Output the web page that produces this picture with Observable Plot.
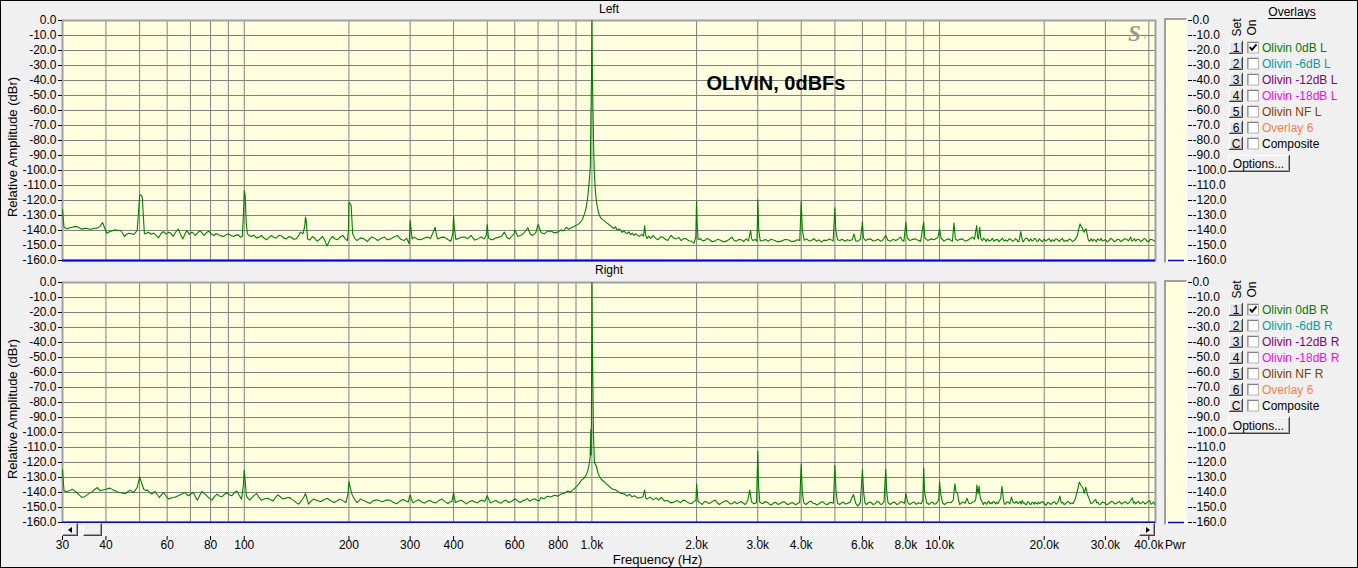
<!DOCTYPE html>
<html><head><meta charset="utf-8">
<script src="https://cdn.jsdelivr.net/npm/d3@7"></script>
<script src="https://cdn.jsdelivr.net/npm/@observablehq/plot@0.6"></script>
<style>
html,body{margin:0;padding:0;background:#f0f0f0;}
#app{position:relative;width:1358px;height:568px;overflow:hidden;background:#f0f0f0;font-family:"Liberation Sans",Arial,sans-serif;font-size:12px;color:#000;}
#app > *{position:absolute;}
.frameBorder{left:0;top:0;width:1358px;height:568px;box-sizing:border-box;border:1px solid #000;pointer-events:none;}
.pwrbox{background:#ffffe0;box-sizing:border-box;border-left:2px solid #a0a0a0;border-top:2px solid #a0a0a0;border-right:1px solid #fafafa;border-bottom:1px solid #fafafa;}
.track{background-color:#f4f4f4;background-image:repeating-conic-gradient(#ffffff 0 25%, #ebebeb 0 50%);background-size:2px 2px;}
.raised{box-sizing:border-box;background:#f0f0f0;border-top:1px solid #fff;border-left:1px solid #fff;border-right:1px solid #404040;border-bottom:1px solid #404040;box-shadow:inset -1px -1px 0 #a0a0a0;}
.tri{position:absolute;top:3px;width:0;height:0;border-top:3px solid transparent;border-bottom:3px solid transparent;}
</style></head>
<body><div id="app"></div>
<script>
// ---------------- data ----------------
const freqDomain = [30, 41800];
const dbDomain = [-160, 0];
const yTicks = [0,-10,-20,-30,-40,-50,-60,-70,-80,-90,-100,-110,-120,-130,-140,-150,-160];
const xGridValues = [40,50,60,70,80,90,100,200,300,400,500,600,700,800,900,1000,2000,3000,4000,5000,6000,7000,8000,9000,10000,20000,30000,40000];
const xTickValues = [30,40,60,80,100,200,300,400,600,800,1000,2000,3000,4000,6000,8000,10000,20000,30000,40000];
const xTickLabels = ["30","40","60","80","100","200","300","400","600","800","1.0k","2.0k","3.0k","4.0k","6.0k","8.0k","10.0k","20.0k","30.0k","40.0k"];
const floorDb = [-160];
const panelTitles = ["Left","Right"];
const annotation = ["OLIVIN, 0dBFs"];
const overlaySet = ["1","2","3","4","5","6","C"];
const overlayNamesL = ["Olivin 0dB L","Olivin -6dB L","Olivin -12dB L","Olivin -18dB L","Olivin NF L","Overlay 6","Composite"];
const overlayNamesR = ["Olivin 0dB R","Olivin -6dB R","Olivin -12dB R","Olivin -18dB R","Olivin NF R","Overlay 6","Composite"];
const overlayColors = ["#008000","#00a0a0","#800080","#ff00ff","#804000","#ff8040","#000000"];
const overlayOn = [true,false,false,false,false,false,false];

// [frequency Hz, level dBr]
const leftSpectrum = [
[30,-126.2],[30.3,-137.8],[30.9,-138.9],[31.5,-138.2],[32.0,-137.8],[32.5,-137.4],[33.0,-137.3],[33.6,-138.3],[34.1,-139.1],[34.7,-138.6],[35.3,-138.7],[35.9,-139.2],[36.5,-138.9],[37.1,-138.5],[37.8,-138.4],[38.5,-137.2],[39.1,-134.7],[39.7,-138.5],[40.2,-141.8],[41.1,-140.7],[41.8,-140.1],[42.5,-139.6],[43.2,-139.8],[44.0,-140.0],[44.6,-141.5],[45.2,-144.0],[45.8,-142.6],[46.5,-141.8],[47.3,-142.1],[48.1,-142.7],[48.7,-141.2],[49.2,-140.0],[49.7,-126.0],[50.0,-116.7],[50.4,-116.2],[50.9,-117.8],[51.3,-132],[51.6,-142.2],[52.3,-141.8],[53.1,-141.1],[53.9,-142.5],[54.8,-141.8],[55.7,-143.1],[56.7,-144.9],[57.6,-142.0],[58.6,-140.7],[59.6,-142.4],[60.6,-141.1],[61.5,-141.9],[62.4,-144.0],[63.5,-141.0],[64.6,-139.1],[65.6,-142.8],[66.6,-145.6],[67.5,-142.3],[68.4,-140.0],[69.5,-142.6],[70.7,-141.1],[71.5,-142.0],[72.3,-143.3],[73.5,-141.4],[74.7,-140.0],[75.7,-141.9],[76.7,-143.3],[77.8,-141.5],[79.0,-140.4],[80.3,-142.2],[81.7,-143.3],[83.0,-142.0],[84.4,-142.9],[85.8,-143.6],[87.2,-144.0],[88.6,-142.9],[90.1,-142.2],[91.6,-143.4],[93.1,-144.0],[94.6,-143.1],[96.2,-142.9],[97.4,-144.4],[98.7,-144.0],[99.5,-128],[100.0,-113.3],[100.6,-116.7],[101.3,-135],[102.1,-142.2],[103.5,-143.6],[104.9,-144.0],[106.6,-143.1],[108.4,-144.9],[110.2,-144.6],[112.0,-143.3],[113.9,-145.0],[115.8,-146.2],[117.7,-144.7],[119.7,-143.3],[121.7,-144.8],[123.7,-144.9],[125.7,-143.2],[127.8,-143.5],[130.0,-145.1],[132.1,-145.6],[134.3,-144.1],[136.5,-144.5],[138.7,-145.8],[141.0,-145.6],[143.2,-143.6],[145.0,-141.1],[147.5,-142.2],[149.3,-137],[150.0,-131.1],[150.7,-133],[152.0,-145.6],[154.5,-146.3],[157.0,-144.0],[159.5,-145.2],[162.0,-147.1],[165.0,-145.8],[168.0,-144.0],[170.5,-146.6],[173.0,-150.4],[176.0,-146.5],[179.0,-144.0],[182.0,-145.5],[185.0,-146.2],[188.5,-144.5],[192.0,-143.3],[195.0,-145.4],[198.0,-146.7],[199.4,-140],[200.0,-121.1],[201.5,-122],[203,-123.3],[205,-142.2],[208,-145.2],[211,-146.7],[216,-144.9],[221,-145.6],[226,-147.3],[232,-144.4],[237,-145.1],[242,-146.7],[247,-145.4],[253,-144.4],[258,-146.2],[264,-145.6],[270,-144.2],[276,-143.3],[282,-145.9],[288,-146.7],[293,-145.2],[298,-148.9],[299.3,-140],[300,-133.3],[301.5,-138],[304,-145.6],[308,-144.4],[315,-145.8],[322,-146.2],[330,-145.0],[337,-144.4],[343,-145.3],[348,-142.2],[351,-140.0],[354,-137.8],[357,-143.0],[360,-145.6],[368,-144.6],[376,-144.4],[385,-146.0],[393,-147.1],[398,-142],[400,-130.4],[402,-138],[406,-145.9],[411,-145.6],[420,-144.5],[430,-144.4],[440,-145.5],[449,-143.3],[460,-146.4],[470,-145.6],[480,-144.3],[490,-145.6],[497,-143],[500,-136.0],[504,-144.8],[511,-145.9],[518,-146.2],[530,-144.9],[542,-144.4],[551,-143.6],[560,-141.1],[570,-144.7],[579,-145.6],[590,-143.5],[598,-142],[600,-139.6],[612,-143.8],[625,-143.3],[640,-141.2],[654,-138.2],[665,-142.5],[676,-143.3],[690,-141.3],[700,-136.0],[715,-141.5],[730,-142.2],[746,-140.3],[763,-140.4],[780,-141.6],[798,-141.1],[816,-139.6],[830,-140.2],[843,-137.8],[857,-139.1],[871,-138.2],[888,-137.4],[904,-136.4],[916,-135.6],[928,-134.2],[937,-133.0],[945,-130.9],[952,-128.9],[959,-126.4],[965,-123.1],[970,-119.8],[976,-114.5],[980,-109.8],[985,-104],[990,-96.4],[992,-74.2],[997,-40],[1000,0],[1003,-36],[1011,-82],[1016,-101],[1022,-112],[1028,-118.7],[1034,-123],[1041,-126.4],[1050,-129.5],[1060,-131.6],[1074,-132.7],[1088,-133.8],[1104,-135.1],[1120,-136.0],[1138,-137.4],[1157,-138.7],[1170,-137.5],[1183,-139.9],[1196,-138.9],[1209,-139.8],[1222,-141.2],[1236,-140.3],[1250,-141.6],[1264,-142.0],[1278,-140.9],[1293,-142.7],[1308,-141.8],[1322,-143.3],[1336,-142.1],[1350,-143.0],[1370,-143.9],[1390,-142.6],[1408,-143.8],[1418,-136.9],[1428,-143.1],[1440,-145.3],[1457,-143.8],[1474,-145.3],[1486,-144.6],[1498,-143.3],[1523,-145.1],[1548,-146.2],[1575,-144.2],[1600,-144.4],[1626,-145.9],[1652,-146.7],[1670,-145.0],[1689,-143.3],[1718,-145.0],[1748,-145.6],[1777,-144.6],[1807,-146.7],[1837,-145.3],[1868,-145.6],[1900,-146.8],[1931,-147.1],[1966,-148.4],[1990,-144.4],[2000,-120.4],[2008,-135],[2020,-145.8],[2055,-145.6],[2083,-146.9],[2110,-146.7],[2145,-145.3],[2181,-146.2],[2218,-147.5],[2254,-147.1],[2300,-145.9],[2356,-146.7],[2395,-147.6],[2434,-147.1],[2480,-146.0],[2527,-144.4],[2563,-146.5],[2600,-147.1],[2645,-146.0],[2688,-146.2],[2733,-147.3],[2778,-145.6],[2820,-146.9],[2860,-140.0],[2880,-145.5],[2906,-146.7],[2950,-146.0],[2985,-147.1],[3000,-119.6],[3020,-140],[3050,-146.9],[3106,-146.7],[3160,-146.0],[3210,-147.1],[3280,-145.9],[3357,-146.7],[3430,-147.6],[3508,-147.1],[3590,-146.0],[3667,-146.2],[3750,-147.4],[3832,-147.1],[3900,-146.1],[3962,-146.7],[4000,-120.7],[4030,-140],[4080,-146.5],[4142,-145.6],[4210,-146.9],[4281,-146.7],[4350,-145.5],[4425,-147.1],[4500,-146.2],[4574,-147.8],[4650,-146.4],[4728,-146.7],[4830,-145.6],[4942,-147.1],[5000,-124.9],[5030,-140],[5090,-146.2],[5165,-146.7],[5250,-145.8],[5337,-147.1],[5430,-146.1],[5518,-146.7],[5610,-146.2],[5671,-142.2],[5740,-146.9],[5833,-147.1],[5920,-145.8],[6000,-134.4],[6040,-145],[6126,-146.7],[6230,-145.9],[6333,-145.6],[6440,-147.0],[6546,-146.7],[6650,-145.8],[6767,-147.1],[6880,-146.2],[7000,-143.3],[7100,-146.5],[7229,-147.1],[7350,-145.9],[7473,-146.7],[7600,-145.8],[7725,-144.4],[7820,-146.6],[7898,-147.1],[8000,-134.4],[8070,-145],[8217,-146.7],[8380,-145.9],[8534,-145.6],[8680,-146.6],[8822,-147.1],[9000,-134.4],[9070,-145],[9258,-146.7],[9450,-145.6],[9634,-146.2],[9780,-145.4],[9893,-144.4],[10000,-138.9],[10100,-145],[10301,-147.1],[10480,-146.0],[10648,-145.6],[10780,-146.6],[10888,-147.1],[11000,-135.1],[11100,-145.5],[11255,-146.7],[11440,-145.9],[11634,-145.6],[11830,-146.9],[12026,-146.7],[12230,-145.5],[12431,-144.4],[12600,-145.8],[12791,-136.7],[12860,-144],[12936,-145.6],[13047,-137.8],[13150,-145.5],[13283,-146.7],[13390,-145.2],[13500,-145.8],[13610,-147.3],[13731,-145.6],[13880,-146.9],[14030,-146.6],[14190,-145.3],[14346,-147.1],[14510,-146.2],[14670,-145.9],[14830,-147.4],[14997,-146.2],[15160,-145.1],[15330,-147.0],[15500,-146.3],[15679,-147.1],[15850,-145.6],[16030,-145.8],[16200,-147.2],[16380,-146.7],[16520,-145.4],[16660,-145.9],[16800,-147.5],[16932,-147.1],[17124,-140.7],[17300,-146.3],[17400,-147.6],[17503,-146.7],[17700,-145.0],[17900,-145.4],[18100,-147.1],[18295,-145.6],[18450,-146.9],[18600,-146.6],[18750,-145.2],[18912,-145.6],[19070,-147.3],[19230,-146.9],[19390,-145.5],[19549,-146.7],[19770,-147.5],[19990,-145.8],[20210,-146.9],[20436,-146.2],[20660,-145.4],[20890,-147.4],[21120,-146.1],[21350,-147.1],[21590,-145.5],[21830,-145.9],[22070,-147.3],[22316,-146.2],[22570,-145.3],[22820,-147.3],[23070,-146.5],[23329,-147.1],[23590,-145.7],[23850,-146.0],[24110,-147.4],[24372,-146.7],[24650,-145.5],[24928,-143.3],[25150,-139],[25362,-135.6],[25560,-137.5],[25769,-138.2],[25900,-140.5],[26043,-141.1],[26200,-139.5],[26393,-138.9],[26560,-142],[26742,-145.6],[26940,-147.2],[27130,-146.5],[27330,-145.4],[27530,-147.1],[27760,-146.0],[28000,-146.3],[28230,-147.5],[28457,-145.6],[28690,-146.2],[28930,-146.6],[29170,-145.3],[29416,-147.1],[29740,-146.4],[30060,-146.2],[30380,-147.6],[30713,-146.7],[31050,-145.3],[31400,-145.9],[31750,-147.3],[32108,-147.1],[32470,-145.8],[32830,-146.0],[33200,-147.4],[33560,-146.7],[34030,-145.5],[34500,-145.8],[34980,-146.9],[35458,-144.4],[35750,-147.0],[36050,-146.5],[36350,-145.5],[36654,-147.1],[37060,-145.9],[37480,-146.0],[37900,-147.3],[38317,-146.7],[38740,-145.4],[39170,-145.9],[39600,-147.4],[40025,-147.1],[40480,-145.8],[40940,-146.2],[41570,-147.1]
];

const rightSpectrum = [
[30,-125.1],[30.3,-138.9],[30.9,-139.3],[31.5,-138.6],[32.0,-137.8],[32.5,-138.9],[33.0,-140.0],[33.6,-141.9],[34.1,-143.3],[34.7,-142.8],[35.3,-141.6],[35.9,-140.4],[36.5,-139.6],[37.1,-138.0],[37.8,-136.7],[38.5,-138.9],[39.2,-138.3],[40.0,-137.8],[40.5,-137.4],[41.1,-137.1],[41.8,-138.1],[42.5,-138.9],[43.2,-139.7],[44.0,-140.0],[44.7,-140.4],[45.5,-140.7],[46.2,-139.5],[47.0,-138.4],[47.5,-139.3],[48.1,-140.0],[48.6,-138.4],[49.2,-136.7],[49.6,-133],[50.0,-129.6],[50.6,-133.3],[51.4,-137.8],[52.0,-138.6],[52.7,-138.4],[53.4,-140.0],[54.2,-141.1],[54.8,-140.0],[55.4,-139.3],[56.2,-141.5],[57.0,-143.3],[57.8,-141.4],[58.6,-140.0],[59.6,-142.5],[60.6,-144.4],[61.6,-143.6],[62.6,-143.3],[63.6,-142.9],[64.6,-142.2],[66.1,-141.0],[67.6,-140.0],[68.3,-141.3],[69.1,-142.2],[70.2,-141.0],[71.4,-140.0],[72.3,-142.7],[73.3,-145.1],[74.4,-142.0],[75.5,-139.3],[76.8,-140.8],[78.1,-142.2],[79.4,-143.9],[80.7,-145.1],[82.1,-142.8],[83.5,-141.1],[84.8,-142.3],[86.2,-142.9],[87.6,-141.3],[89.0,-140.0],[90.5,-141.5],[92.0,-142.2],[93.5,-140.4],[95.1,-138.9],[96.6,-141.7],[98.2,-144.4],[99.3,-136],[100.0,-125.1],[100.6,-132],[101.4,-142.2],[102.5,-143.9],[103.7,-145.1],[106.0,-142.6],[108.4,-140.7],[110.2,-143.2],[112.0,-145.1],[114.5,-144.2],[117.1,-143.8],[119.0,-144.9],[121.0,-145.6],[123.0,-143.3],[125.0,-141.6],[127.1,-143.0],[129.2,-144.4],[132.0,-143.6],[135.0,-143.3],[137.2,-144.6],[139.4,-145.6],[141.4,-146.9],[143.4,-147.8],[146.5,-145.0],[148.8,-142.5],[150.0,-140.7],[151.5,-144],[153.0,-147.8],[155.5,-145.9],[158.0,-144.4],[162.0,-145.4],[166.0,-146.0],[169.5,-144.8],[173.0,-143.8],[177.0,-145.3],[181.0,-146.7],[185.0,-145.5],[189.0,-144.4],[192.5,-145.6],[196.0,-146.7],[198.8,-141],[200.0,-132.7],[201.5,-136],[204.0,-141.1],[207.5,-144.5],[211.0,-146.7],[216.0,-144.4],[222,-145.6],[230,-147.3],[235,-145.5],[240,-144.9],[250,-146.2],[256,-145.0],[262,-145.1],[268,-146.5],[274,-147.5],[280,-145.9],[286,-144.7],[296,-146.4],[300,-141.6],[303,-145],[306,-146.9],[312,-145.6],[318,-144.9],[324,-146.3],[330,-147.1],[336,-145.8],[342,-145.3],[349,-146.5],[356,-146.9],[363,-145.4],[370,-144.4],[378,-146.1],[385,-147.3],[391,-146.2],[396,-145.8],[400,-140.0],[402,-143],[405,-146.7],[412,-145.9],[420,-145.1],[428,-146.3],[436,-147.6],[444,-146.1],[452,-145.3],[460,-146.3],[468,-146.9],[476,-145.7],[484,-145.1],[492,-146.0],[500,-142.2],[506,-145.2],[512,-146.9],[521,-145.8],[530,-145.3],[539,-146.5],[548,-147.1],[557,-145.7],[566,-145.1],[575,-146.6],[585,-146.2],[594,-145.0],[604,-144.4],[613,-145.8],[622,-146.7],[632,-145.4],[642,-145.1],[652,-144.0],[662,-145.8],[673,-144.9],[684,-144.2],[695,-145.2],[706,-145.6],[713,-143.3],[729,-144.1],[745,-142.5],[762,-143.0],[780,-141.8],[798,-142.4],[816,-141.0],[834,-140.5],[852,-139.0],[866,-139.8],[881,-138.4],[894,-137.1],[907,-135.5],[919,-134.1],[931,-132.0],[942,-131.1],[952,-130.0],[963,-128.2],[973,-125.6],[981,-121.5],[988,-116.7],[993,-97.8],[996,-115],[1000,0],[1004,-47],[1010,-100],[1017,-120],[1023,-121.5],[1029,-122.0],[1035,-124.5],[1040,-126.7],[1051,-129.3],[1063,-131.0],[1075,-132.2],[1087,-133.0],[1099,-134.3],[1111,-134.9],[1130,-136.7],[1149,-137.8],[1168,-138.2],[1187,-139.3],[1214,-140.6],[1241,-141.0],[1262,-142.4],[1284,-141.2],[1305,-142.9],[1326,-142.2],[1352,-143.6],[1380,-143.5],[1402,-142.8],[1418,-138.4],[1428,-143.6],[1440,-144.4],[1470,-143.1],[1500,-144.9],[1530,-143.6],[1555,-145.1],[1584,-143.3],[1615,-145.6],[1650,-145.3],[1685,-146.9],[1720,-146.4],[1760,-145.4],[1799,-146.8],[1830,-145.1],[1860,-145.6],[1895,-146.9],[1930,-147.5],[1965,-146.1],[1992,-145],[2000,-134.2],[2010,-140],[2020,-146.0],[2048,-146.9],[2076,-148.0],[2108,-146.0],[2140,-146.2],[2170,-147.4],[2199,-146.8],[2230,-145.6],[2260,-145.1],[2293,-146.8],[2327,-148.0],[2358,-146.9],[2390,-146.4],[2427,-145.3],[2465,-146.2],[2497,-147.6],[2530,-147.5],[2570,-146.1],[2610,-147.5],[2650,-146.6],[2690,-146.0],[2727,-147.2],[2764,-148.0],[2810,-145],[2844,-138.4],[2880,-146.2],[2925,-147.5],[2975,-146.8],[3000,-112.6],[3015,-135],[3040,-146.5],[3098,-147.5],[3145,-146.1],[3190,-146.4],[3235,-147.6],[3281,-148.4],[3330,-146.9],[3380,-146.6],[3427,-147.9],[3474,-147.5],[3527,-146.3],[3580,-146.2],[3630,-147.6],[3680,-148.0],[3735,-146.9],[3790,-146.8],[3845,-148.1],[3897,-147.5],[3960,-146.5],[4000,-121.0],[4030,-140],[4070,-146.9],[4128,-148.0],[4200,-146.5],[4272,-145.8],[4326,-147.2],[4380,-147.3],[4440,-148.4],[4496,-147.5],[4560,-146.4],[4620,-146.2],[4690,-147.7],[4762,-148.0],[4820,-146.9],[4880,-146.6],[4950,-147.2],[5000,-121.9],[5040,-140],[5090,-147.2],[5160,-148.0],[5225,-146.9],[5290,-146.4],[5350,-147.6],[5415,-147.5],[5530,-146.3],[5653,-141.3],[5740,-147.2],[5821,-149.1],[5920,-146.6],[6000,-124.8],[6050,-140],[6100,-146.9],[6167,-148.0],[6260,-146.6],[6350,-146.6],[6440,-148.0],[6530,-147.5],[6600,-146.1],[6680,-146.2],[6750,-147.6],[6815,-148.0],[6920,-146.2],[7000,-124.5],[7050,-140],[7110,-146.8],[7218,-148.0],[7320,-146.8],[7420,-146.4],[7530,-147.9],[7641,-147.5],[7730,-146.0],[7820,-146.4],[7930,-147.2],[8000,-140.8],[8100,-146.5],[8209,-148.0],[8330,-146.9],[8450,-146.4],[8570,-147.9],[8693,-146.8],[8850,-147.5],[8950,-145],[9000,-123.7],[9060,-140],[9180,-146.8],[9339,-148.0],[9440,-146.8],[9540,-146.4],[9650,-147.8],[9754,-147.5],[9880,-146.2],[9950,-144],[10000,-132.9],[10080,-141],[10200,-146.9],[10330,-148.0],[10560,-146.6],[10784,-146.8],[10950,-145.1],[11068,-134.2],[11160,-140],[11260,-140.3],[11340,-145],[11425,-148.0],[11560,-146.9],[11700,-146.4],[11850,-147.2],[11995,-143.9],[12140,-147.1],[12277,-147.5],[12440,-146.3],[12600,-146.2],[12720,-144],[12809,-135.1],[12900,-141],[12996,-135.8],[13100,-144],[13372,-148.0],[13470,-146.5],[13560,-146.8],[13660,-147.9],[13760,-146.4],[13860,-145.8],[13960,-147.6],[14060,-146.7],[14158,-147.5],[14270,-146.0],[14380,-146.2],[14490,-147.7],[14600,-146.6],[14730,-147.3],[14860,-145.5],[14990,-144],[15116,-135.8],[15250,-144],[15340,-147.2],[15429,-148.0],[15600,-146.4],[15760,-146.3],[15930,-147.6],[16098,-143.0],[16270,-146.5],[16450,-147.2],[16630,-145.9],[16806,-147.5],[16930,-146.6],[17050,-146.0],[17170,-147.7],[17293,-145.3],[17420,-147.2],[17550,-146.9],[17680,-148.2],[17800,-147.8],[17920,-146.2],[18050,-146.3],[18180,-147.6],[18320,-148.0],[18450,-146.7],[18580,-146.6],[18710,-147.9],[18850,-146.4],[18990,-147.2],[19120,-147.7],[19260,-146.3],[19394,-147.5],[19610,-146.4],[19820,-146.1],[20030,-147.7],[20246,-148.4],[20470,-146.6],[20690,-147.0],[20910,-148.0],[21136,-146.8],[21400,-146.2],[21660,-147.7],[21930,-146.3],[22196,-142.4],[22400,-147.0],[22600,-146.6],[22820,-148.0],[23035,-147.5],[23290,-146.1],[23540,-146.2],[23790,-147.6],[24049,-146.8],[24220,-147.5],[24400,-145.9],[24570,-144.3],[24746,-141.3],[25000,-137.5],[25241,-133.1],[25530,-135.3],[25826,-136.9],[26080,-140.5],[26343,-136.5],[26650,-141.5],[26963,-144.6],[27250,-147.3],[27540,-147.0],[27830,-145.8],[28133,-144.6],[28330,-146.9],[28540,-146.5],[28750,-147.8],[28968,-148.0],[29380,-146.4],[29800,-146.8],[30220,-148.1],[30640,-147.5],[31090,-146.1],[31540,-146.2],[32000,-147.7],[32455,-146.8],[32920,-145.9],[33400,-147.7],[33880,-146.6],[34360,-146.2],[34730,-147.5],[35100,-146.8],[35480,-145.2],[35870,-143.5],[36130,-147.1],[36400,-146.3],[36650,-147.6],[36910,-146.8],[37310,-145.9],[37720,-147.6],[38130,-146.9],[38540,-146.2],[38960,-147.7],[39380,-147.0],[39810,-146.1],[40240,-145.2],[40570,-147.8],[40900,-147.3],[41280,-146.4],[41650,-148.0]
];

// ---------------- layout ----------------
const app = document.getElementById("app");
const FONT = "'Liberation Sans', Arial, sans-serif";
const labelOf = new Map(xTickValues.map((v, i) => [v, xTickLabels[i]]));
const dbFmt = d => d.toFixed(1);

function place(el, left, top) {
  el.style.position = "absolute";
  el.style.left = left + "px";
  el.style.top = top + "px";
  app.appendChild(el);
  return el;
}
function div(cls, left, top, w, h, html) {
  const d = document.createElement("div");
  if (cls) d.className = cls;
  d.style.width = w + "px"; d.style.height = h + "px";
  if (html) d.innerHTML = html;
  return place(d, left, top);
}

function spectrumPanel(spectrum, title, isTop) {
  const marks = [
    Plot.frame({fill: "#ffffe0", stroke: "none"}),
    Plot.gridX(xGridValues, {stroke: "#808080", strokeOpacity: 1, strokeWidth: 1}),
    Plot.gridY(yTicks, {stroke: "#808080", strokeOpacity: 1, strokeWidth: 1}),
    Plot.frame({stroke: "#a0a0a0", strokeWidth: 2}),
    Plot.line(spectrum, {x: d => d[0], y: d => d[1], stroke: "#008000", strokeWidth: 1.1}),
    Plot.ruleY(floorDb, {stroke: "#0000ff", strokeWidth: 2}),
    Plot.axisY(yTicks, {anchor: "left", tickSize: 4, tickPadding: 2, tickFormat: dbFmt, label: null, fontSize: 12}),
    Plot.text([title], {text: d => d, frameAnchor: "top", dy: isTop ? -11 : -12, fontSize: 12, textAnchor: "middle", lineAnchor: "middle"}),
    Plot.text(["Relative Amplitude (dBr)"], {text: d => d, frameAnchor: "left", dx: -49.5, dy: 6.5, rotate: -90, fontSize: 13, textAnchor: "middle", lineAnchor: "middle"})
  ];
  if (isTop) {
    marks.push(Plot.text(annotation, {text: d => d, frameAnchor: "top-left", dx: 713.5, dy: 63, fontSize: 20, fontWeight: "bold", textAnchor: "middle", lineAnchor: "middle"}));
    marks.push(Plot.text(["S"], {text: d => d, frameAnchor: "top-right", dx: -21, dy: 13, fontSize: 23, fontWeight: "bold", fontStyle: "italic", fontFamily: "'Liberation Serif', serif", fill: "#9a9a9a", textAnchor: "middle", lineAnchor: "middle"}));
    marks.push(Plot.text(["/"], {text: d => d, frameAnchor: "top-right", dx: -10.5, dy: 16, fontSize: 8, fill: "#9a9a9a", textAnchor: "middle", lineAnchor: "middle"}));
  }
  return Plot.plot({
    width: 1160, height: 262,
    marginLeft: 62, marginRight: 5, marginTop: 20, marginBottom: 2,
    x: {type: "log", domain: freqDomain, axis: null},
    y: {domain: dbDomain, axis: null},
    style: {background: "transparent", fontFamily: FONT, fontSize: "12px", color: "#000", overflow: "visible"},
    marks
  });
}

function pwrPanel() {
  return Plot.plot({
    width: 70, height: 262,
    marginLeft: 2, marginRight: 46, marginTop: 20, marginBottom: 2,
    y: {domain: dbDomain, axis: null},
    style: {background: "transparent", fontFamily: FONT, fontSize: "12px", color: "#000", overflow: "visible"},
    marks: [
      Plot.ruleY(floorDb, {stroke: "#0000ff", strokeWidth: 1.5, insetLeft: 3, insetRight: 3}),
      Plot.axisY(yTicks, {anchor: "right", tickSize: 4, tickPadding: 1, tickFormat: dbFmt, label: null, fontSize: 12})
    ]
  });
}

function overlayPanel(names, withHeader) {
  const ns = "http://www.w3.org/2000/svg";
  let s = `<svg xmlns="${ns}" width="133" height="180" style="font-family:${FONT.replace(/'/g, "&quot;")};font-size:12px">`;
  if (withHeader) {
    s += `<text x="67" y="12" text-anchor="middle" dominant-baseline="central">Overlays</text>`;
    s += `<line x1="43" x2="91" y1="18.5" y2="18.5" stroke="#000"/>`;
  }
  s += `<text transform="translate(12,27.5) rotate(-90)" text-anchor="middle" dominant-baseline="central">Set</text>`;
  s += `<text transform="translate(27,27.5) rotate(-90)" text-anchor="middle" dominant-baseline="central">On</text>`;
  names.forEach((name, i) => {
    const cy = 47.5 + 16 * i;
    const t = cy - 6.5, b = cy + 6.5;
    s += `<rect x="4" y="${t}" width="14" height="13" fill="#e6e6e6"/>`;
    s += `<path d="M4.5 ${b - 1} V${t + 0.5} H17" fill="none" stroke="#fff"/>`;
    s += `<path d="M4 ${b - 0.5} H17.5 V${t}" fill="none" stroke="#404040"/>`;
    s += `<path d="M5 ${b - 1.5} H16.5 V${t + 1}" fill="none" stroke="#a0a0a0"/>`;
    s += `<text x="11" y="${cy + 0.5}" text-anchor="middle" dominant-baseline="central">${overlaySet[i]}</text>`;
    s += `<rect x="22.5" y="${cy - 5.5}" width="11" height="11" fill="#fff" stroke="#b4b4b4"/>`;
    s += `<path d="M23 ${cy + 5} V${cy - 5} H33" fill="none" stroke="#808080"/>`;
    if (overlayOn[i]) s += `<polyline points="24.8,${cy - 0.5} 27,${cy + 2.3} 31.5,${cy - 3.2}" fill="none" stroke="#000" stroke-width="1.9"/>`;
    s += `<text x="37" y="${cy + 0.5}" fill="${overlayColors[i]}" dominant-baseline="central">${name}</text>`;
  });
  const oy = 155;
  s += `<rect x="3" y="${oy}" width="62" height="17" fill="#f0f0f0"/>`;
  s += `<path d="M3.5 ${oy + 16.5} V${oy + 0.5} H64.5" fill="none" stroke="#fff"/>`;
  s += `<path d="M3 ${oy + 16.5} H64.5 V${oy}" fill="none" stroke="#404040"/>`;
  s += `<path d="M4 ${oy + 15.5} H63.5 V${oy + 1}" fill="none" stroke="#a0a0a0"/>`;
  s += `<text x="33.5" y="${oy + 8.5}" text-anchor="middle" dominant-baseline="central">Options...</text>`;
  s += `</svg>`;
  const d = document.createElement("div");
  d.innerHTML = s;
  return d;
}

function axisPanel() {
  return Plot.plot({
    width: 1160, height: 38,
    marginLeft: 62, marginRight: 5, marginTop: 6, marginBottom: 28,
    x: {type: "log", domain: freqDomain, axis: null},
    style: {background: "transparent", fontFamily: FONT, fontSize: "12px", color: "#000", overflow: "visible"},
    marks: [
      Plot.ruleX(xTickValues, {x: d => d, stroke: "#000"}),
      Plot.text(xTickValues, {x: d => d, text: d => labelOf.get(d), frameAnchor: "bottom", dy: 0, fontSize: 12, textAnchor: "middle", lineAnchor: "top"}),
      Plot.text(["Frequency (Hz)"], {text: d => d, frameAnchor: "bottom-left", dx: 595, dy: 19, fontSize: 13, textAnchor: "middle", lineAnchor: "middle"})
    ]
  });
}

// panels
const spectra = [leftSpectrum, rightSpectrum];
const overlayNames = [overlayNamesL, overlayNamesR];
[0, 1].forEach(k => {
  const off = 262 * k;
  place(spectrumPanel(spectra[k], panelTitles[k], k === 0), 0, off);
  div("pwrbox", 1164, 18 + off, 23, 245);
  place(pwrPanel(), 1163, off);
  place(overlayPanel(overlayNames[k], k === 0), 1225, off);
});

// scrollbar
div("track", 62, 523, 1093, 13);
const lb = div("raised", 62, 523, 16, 13);
lb.innerHTML = `<div class="tri" style="left:5px;border-right:4px solid #000"></div>`;
div("raised", 83, 523, 19, 13);
const rb = div("raised", 1139, 523, 16, 13);
rb.innerHTML = `<div class="tri" style="left:6px;border-left:4px solid #000"></div>`;

// x axis
place(axisPanel(), 0, 530);
const pwr = div("", 1165, 539, 30, 13, "Pwr");
pwr.style.lineHeight = "13px";

// outer border
div("frameBorder", 0, 0, 1358, 568);
</script>
</body></html>
